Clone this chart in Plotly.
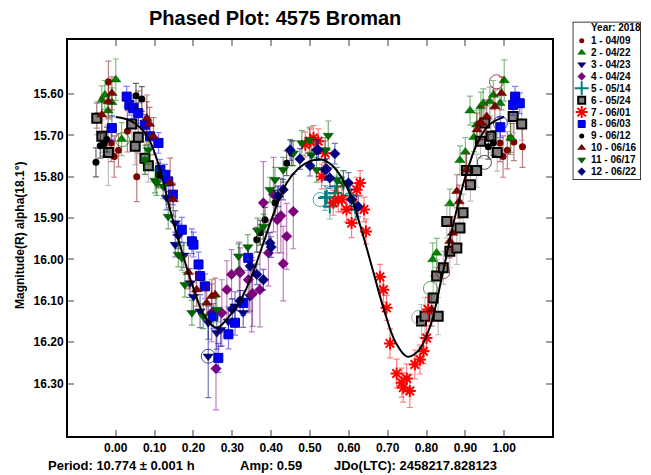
import plotly.graph_objects as go

FONT = "Liberation Sans, Arial, sans-serif"

# ---------------- data ----------------
session_labels = ["1 - 04/09", "2 - 04/22", "3 - 04/23", "4 - 04/24", "5 - 05/14", "6 - 05/24",
                  "7 - 06/01", "8 - 06/03", "9 - 06/12", "10 - 06/16", "11 - 06/17", "12 - 06/22"]
legend_title = "Year: 2018"
chart_title = "Phased Plot: 4575 Broman"
y_title = "Magnitude(R) alpha(18.1°)"
footer_period = "Period: 10.774 ± 0.001 h"
footer_amp = "Amp: 0.59"
footer_jd = "JDo(LTC): 2458217.828123"

x_tick_vals = [0.0, 0.1, 0.2, 0.3, 0.4, 0.5, 0.6, 0.7, 0.8, 0.9, 1.0]
y_tick_vals = [15.60, 15.70, 15.80, 15.90, 16.00, 16.10, 16.20, 16.30]

s1_phase = [-0.049, -0.019, -0.012, -0.004, 0.007, 0.030, 0.054, 0.058, 0.080, 0.989, 0.997, 1.008, 1.016, 1.025, 1.047]
s1_mag = [15.652, 15.570, 15.718, 15.751, 15.736, 15.690, 15.800, 15.642, 15.662, 15.718, 15.751, 15.736, 15.706, 15.716, 15.727]
s1_err = [0.030, 0.050, 0.045, 0.050, 0.040, 0.050, 0.060, 0.050, 0.060, 0.045, 0.050, 0.045, 0.040, 0.045, 0.050]

s2_phase = [-0.036, -0.028, -0.020, -0.010, 0.000, 0.015, 0.816, 0.826, 0.860, 0.886, 0.900, 0.912, 0.922, 0.929,
            0.940, 0.946, 0.963, 0.972, 0.989, 1.000, 1.017]
s2_mag = [15.615, 15.602, 15.640, 15.620, 15.565, 15.709, 16.000, 15.984, 15.865, 15.760, 15.740, 15.640, 15.704, 15.674,
          15.630, 15.622, 15.618, 15.602, 15.622, 15.567, 15.706]
s2_err = [0.035, 0.035, 0.035, 0.035, 0.050, 0.040, 0.040, 0.035, 0.035, 0.035, 0.035, 0.035, 0.035, 0.035,
          0.035, 0.035, 0.035, 0.035, 0.035, 0.050, 0.035]

s3_phase = [0.130, 0.153, 0.153, 0.161, 0.175, 0.191, 0.200, 0.217, 0.238, 0.238, 0.260, 0.270, 0.290, 0.307, 0.328, 0.345]
s3_mag = [15.850, 15.912, 15.964, 15.944, 15.990, 16.057, 16.090, 16.125, 16.153, 16.234, 16.177, 16.170, 16.150, 16.113, 16.129, 16.090]
s3_err = [0.030, 0.030, 0.030, 0.030, 0.030, 0.035, 0.035, 0.040, 0.040, 0.100, 0.040, 0.040, 0.035, 0.035, 0.035, 0.035]

s4_phase = [0.247, 0.258, 0.273, 0.286, 0.298, 0.318, 0.320, 0.341, 0.350, 0.352, 0.371, 0.380, 0.393, 0.406,
            0.416, 0.425, 0.431, 0.440, 0.457]
s4_mag = [16.129, 16.264, 16.129, 16.073, 16.036, 16.028, 16.032, 16.049, 16.085, 16.082, 16.073, 15.863, 15.984, 15.843,
          15.904, 15.894, 16.010, 15.944, 15.884]
s4_err = [0.070, 0.100, 0.080, 0.070, 0.060, 0.070, 0.060, 0.080, 0.090, 0.080, 0.090, 0.100, 0.080, 0.090,
          0.080, 0.090, 0.090, 0.080, 0.090]

s5_phase = [0.539, 0.543, 0.551, 0.564, 0.569, 0.586, 0.603, 0.616, 0.620]
s5_mag = [15.851, 15.849, 15.872, 15.839, 15.823, 15.815, 15.845, 15.872, 15.879]
s5_err = [0.030, 0.025, 0.030, 0.030, 0.025, 0.030, 0.030, 0.030, 0.035]

s6_phase = [-0.049, -0.036, -0.019, 0.041, 0.050, 0.058, 0.075, 0.084, 0.787, 0.796, 0.817, 0.826, 0.830, 0.843,
            0.852, 0.860, 0.878, 0.886, 0.894, 0.903, 0.913, 0.929, 0.939, 0.950, 0.966, 0.982, 1.023, 1.045]
s6_mag = [15.658, 15.702, 15.741, 15.672, 15.726, 15.704, 15.755, 15.773, 16.149, 16.137, 16.093, 16.040, 16.137, 16.020,
          15.908, 15.980, 15.972, 15.924, 15.887, 15.785, 15.819, 15.785, 15.714, 15.670, 15.702, 15.741, 15.654, 15.672]
s6_err = [0.040, 0.040, 0.080, 0.040, 0.045, 0.040, 0.040, 0.040, 0.040, 0.045, 0.040, 0.040, 0.045, 0.040,
          0.040, 0.040, 0.040, 0.040, 0.045, 0.040, 0.040, 0.040, 0.040, 0.040, 0.040, 0.045, 0.040, 0.040]

s7_phase = [0.488, 0.500, 0.509, 0.521, 0.530, 0.539, 0.560, 0.573, 0.582, 0.594, 0.607, 0.620, 0.629, 0.639, 0.644,
            0.680, 0.689, 0.697, 0.706, 0.723, 0.736, 0.740, 0.749, 0.757, 0.770, 0.783, 0.792, 0.800, 0.804]
s7_mag = [15.722, 15.714, 15.706, 15.714, 15.799, 15.743, 15.863, 15.855, 15.855, 15.879, 15.912, 15.831, 15.815, 15.879, 15.932,
          16.042, 16.073, 16.117, 16.203, 16.276, 16.298, 16.310, 16.288, 16.318, 16.254, 16.242, 16.222, 16.190, 16.121]
s7_err = [0.030, 0.030, 0.030, 0.030, 0.030, 0.030, 0.030, 0.030, 0.030, 0.030, 0.035, 0.030, 0.030, 0.030, 0.030,
          0.030, 0.030, 0.030, 0.035, 0.035, 0.035, 0.035, 0.035, 0.040, 0.035, 0.035, 0.030, 0.030, 0.030]

s8_phase = [-0.010, 0.028, 0.035, 0.045, 0.058, 0.075, 0.088, 0.110, 0.114, 0.127, 0.135, 0.147, 0.170, 0.196, 0.200,
            0.213, 0.217, 0.230, 0.251, 0.264, 0.290, 0.307, 0.328, 0.341, 0.990, 1.023, 1.028, 1.040]
s8_mag = [15.682, 15.606, 15.626, 15.634, 15.646, 15.674, 15.702, 15.718, 15.783, 15.795, 15.811, 15.843, 15.928, 15.956, 15.964,
          16.012, 16.040, 16.065, 16.137, 16.238, 16.181, 16.153, 16.105, 15.996, 15.680, 15.626, 15.606, 15.622]
s8_err = [0.030, 0.025, 0.025, 0.025, 0.025, 0.025, 0.025, 0.025, 0.025, 0.025, 0.025, 0.025, 0.030, 0.030, 0.030,
          0.030, 0.030, 0.030, 0.030, 0.035, 0.035, 0.030, 0.030, 0.030, 0.025, 0.025, 0.025, 0.025]

s9_phase = [-0.051, -0.040, -0.030, -0.023, 0.052, 0.067, 0.110, 0.363, 0.372, 0.384, 0.410, 0.440, 0.453, 0.959, 0.972]
s9_mag = [15.765, 15.725, 15.720, 15.710, 15.604, 15.612, 15.797, 15.952, 15.935, 15.904, 15.863, 15.767, 15.743, 15.727, 15.718]
s9_err = [0.035, 0.030, 0.030, 0.030, 0.030, 0.030, 0.030, 0.030, 0.030, 0.030, 0.030, 0.030, 0.030, 0.030, 0.030]

s10_phase = [-0.036, -0.019, -0.010, 0.080, 0.087, 0.097, 0.140, 0.148, 0.187, 0.208, 0.234, 0.247, 0.256,
             0.813, 0.860, 0.867, 0.878, 0.884, 0.903, 0.930, 0.937, 0.942, 0.955, 0.976, 0.993]
s10_mag = [15.650, 15.618, 15.598, 15.658, 15.672, 15.702, 15.815, 15.855, 16.031, 16.073, 16.105, 16.089, 16.085,
           16.121, 15.956, 15.936, 15.835, 15.860, 15.783, 15.686, 15.670, 15.670, 15.654, 15.630, 15.598]
s10_err = [0.040, 0.040, 0.040, 0.040, 0.040, 0.045, 0.060, 0.040, 0.040, 0.040, 0.040, 0.040, 0.040,
           0.040, 0.040, 0.040, 0.040, 0.040, 0.040, 0.040, 0.040, 0.040, 0.040, 0.040, 0.040]

s11_phase = [0.075, 0.084, 0.101, 0.105, 0.122, 0.135, 0.161, 0.170, 0.178, 0.196, 0.225, 0.260, 0.316, 0.340, 0.365,
             0.380, 0.397, 0.410, 0.431, 0.457, 0.479, 0.499, 0.504, 0.517, 0.539, 0.547, 0.569, 0.586]
s11_mag = [15.759, 15.735, 15.809, 15.815, 15.823, 15.896, 15.988, 15.996, 16.061, 16.129, 16.137, 16.121, 15.992, 15.970, 15.930,
           15.920, 15.831, 15.807, 15.783, 15.743, 15.718, 15.710, 15.747, 15.783, 15.735, 15.700, 15.807, 15.815]
s11_err = [0.035, 0.035, 0.030, 0.030, 0.030, 0.030, 0.030, 0.030, 0.030, 0.030, 0.030, 0.030, 0.030, 0.030, 0.030,
           0.030, 0.030, 0.030, 0.030, 0.030, 0.030, 0.030, 0.030, 0.030, 0.030, 0.035, 0.030, 0.030]

s12_phase = [0.300, 0.320, 0.346, 0.363, 0.380, 0.397, 0.400, 0.418, 0.431, 0.449, 0.474, 0.500, 0.517, 0.521,
             0.539, 0.543, 0.551, 0.564, 0.599, 0.607, 0.624]
s12_mag = [16.120, 16.100, 16.016, 16.036, 16.049, 15.960, 15.970, 15.847, 15.831, 15.735, 15.757, 15.773, 15.735, 15.735,
           15.783, 15.781, 15.803, 15.744, 15.815, 15.855, 15.872]
s12_err = [0.025, 0.025, 0.025, 0.025, 0.025, 0.025, 0.025, 0.025, 0.025, 0.025, 0.025, 0.025, 0.025, 0.025,
           0.025, 0.025, 0.025, 0.025, 0.025, 0.025, 0.025]

# excluded points drawn as rings (session index 1..12)
ring_phase = [0.980, 0.949, 0.526, 0.017, 0.810, 0.842, 0.990, 0.238, 0.780]
ring_mag = [15.570, 15.765, 15.855, 15.710, 16.070, 16.030, 15.670, 16.234, 16.140]
ring_session = [1, 9, 5, 2, 2, 1, 8, 3, 6]

# Fourier fit curve
fit_phase = [0.00, 0.04, 0.08, 0.11, 0.14, 0.17, 0.20, 0.23, 0.26, 0.29, 0.32, 0.35, 0.38, 0.41, 0.44, 0.47,
             0.50, 0.53, 0.56, 0.60, 0.63, 0.66, 0.69, 0.72, 0.75, 0.78, 0.81, 0.84, 0.87, 0.90, 0.93, 0.96, 1.00]
fit_mag = [15.655, 15.665, 15.700, 15.770, 15.880, 15.980, 16.070, 16.140, 16.165, 16.140, 16.100, 16.040, 15.960,
           15.880, 15.815, 15.780, 15.762, 15.758, 15.775, 15.835, 15.920, 16.020, 16.120, 16.200, 16.235, 16.220,
           16.160, 16.040, 15.910, 15.800, 15.720, 15.675, 15.655]

all_phase = [s1_phase, s2_phase, s3_phase, s4_phase, s5_phase, s6_phase, s7_phase, s8_phase, s9_phase, s10_phase, s11_phase, s12_phase]
all_mag = [s1_mag, s2_mag, s3_mag, s4_mag, s5_mag, s6_mag, s7_mag, s8_mag, s9_mag, s10_mag, s11_mag, s12_mag]
all_err = [s1_err, s2_err, s3_err, s4_err, s5_err, s6_err, s7_err, s8_err, s9_err, s10_err, s11_err, s12_err]

# ---------------- styles ----------------
styles = [
    dict(symbol="circle", color="#800000", size=7, lc="#800000", lw=0, ec="rgba(128,0,0,0.5)"),
    dict(symbol="triangle-up", color="#008000", size=9, lc="#006000", lw=0.5, ec="rgba(0,128,0,0.5)"),
    dict(symbol="triangle-down", color="#000080", size=9, lc="#000060", lw=0.5, ec="rgba(0,0,128,0.55)"),
    dict(symbol="diamond", color="#800080", size=8, lc="#600060", lw=0.5, ec="rgba(128,0,128,0.5)"),
    dict(symbol="cross-thin-open", color="#008080", size=10, lc="#008080", lw=2, ec="rgba(0,128,128,0.5)"),
    dict(symbol="square", color="#808080", size=9, lc="#000000", lw=2, ec="rgba(150,150,150,0.6)"),
    dict(symbol="asterisk-open", color="#FF0000", size=10, lc="#FF0000", lw=2, ec="rgba(255,0,0,0.5)"),
    dict(symbol="square", color="#0000FF", size=9, lc="#0000B0", lw=1, ec="rgba(0,0,255,0.5)"),
    dict(symbol="circle", color="#000000", size=7, lc="#000000", lw=0, ec="rgba(0,0,0,0.6)"),
    dict(symbol="triangle-up", color="#800000", size=9, lc="#600000", lw=0.5, ec="rgba(128,0,0,0.5)"),
    dict(symbol="triangle-down", color="#006800", size=9, lc="#004800", lw=0.5, ec="rgba(0,110,0,0.55)"),
    dict(symbol="diamond", color="#000080", size=8, lc="#000060", lw=0.5, ec="rgba(0,0,128,0.55)"),
]

W, H = 651, 475
ML, MR, MT, MB = 68, 10, 10, 39
PW = W - ML - MR
PH = H - MT - MB


def px_x(px):
    return (px - ML) / PW


def px_y(py):
    return (H - MB - py) / PH


fig = go.Figure()

for i in range(12):
    st = styles[i]
    fig.add_trace(go.Scatter(
        x=all_phase[i], y=all_mag[i], mode="markers",
        error_y=dict(type="data", array=all_err[i], visible=True, color=st["ec"], thickness=1.2, width=3),
        marker=dict(symbol=st["symbol"], color=st["color"], size=st["size"],
                    line=dict(color=st["lc"], width=st["lw"])),
        showlegend=False, xaxis="x", yaxis="y"))

fig.add_trace(go.Scatter(
    x=ring_phase, y=ring_mag, mode="markers",
    marker=dict(symbol="circle-open", size=14,
                color=[styles[s - 1]["color"] for s in ring_session],
                line=dict(width=1), opacity=0.7),
    showlegend=False, xaxis="x", yaxis="y"))

fig.add_trace(go.Scatter(
    x=fit_phase, y=fit_mag, mode="lines", line=dict(color="black", width=2, shape="spline"),
    showlegend=False, xaxis="x", yaxis="y"))

# ---------------- custom legend ----------------
LX0, LX1, LY0, LY1 = 572.7, 641.0, 21.7, 180.0
row0 = 19.0
row_step = 11.9
for i in range(12):
    st = styles[i]
    ms = st["size"] - 2 if st["symbol"] not in ("asterisk-open", "cross-thin-open") else st["size"]
    fig.add_trace(go.Scatter(
        x=[9.0], y=[row0 + row_step * i], mode="markers",
        marker=dict(symbol=st["symbol"], color=st["color"], size=ms,
                    line=dict(color=st["lc"], width=st["lw"])),
        showlegend=False, xaxis="x2", yaxis="y2", hoverinfo="skip"))
    fig.add_annotation(x=16.3, y=row0 + row_step * i, xref="x2", yref="y2", text=session_labels[i],
                       showarrow=False, xanchor="left", yanchor="middle",
                       font=dict(family=FONT, size=10, color="black", weight="bold"))
fig.add_annotation(x=16.3, y=5.5, xref="x2", yref="y2", text=legend_title, showarrow=False,
                   xanchor="left", yanchor="middle",
                   font=dict(family=FONT, size=10, color="black", weight="bold"))
fig.add_shape(type="rect", xref="x2", yref="y2", x0=0, x1=LX1 - LX0, y0=0, y1=LY1 - LY0,
              line=dict(color="black", width=1.5))

# ---------------- text ----------------
fig.add_annotation(x=px_x(275), y=px_y(18), xref="paper", yref="paper", text=chart_title,
                   showarrow=False, xanchor="center", yanchor="middle",
                   font=dict(family=FONT, size=20, color="black", weight="bold"))
fig.add_annotation(x=px_x(20), y=px_y(236), xref="paper", yref="paper", text=y_title, textangle=-90,
                   showarrow=False, xanchor="center", yanchor="middle",
                   font=dict(family=FONT, size=12, color="black", weight="bold"))
for txt, px in [(footer_period, 46), (footer_amp, 238), (footer_jd, 332)]:
    fig.add_annotation(x=px_x(px), y=px_y(465), xref="paper", yref="paper", text=txt,
                       showarrow=False, xanchor="left", yanchor="middle",
                       font=dict(family=FONT, size=13, color="black", weight="bold"))

axis_common = dict(showline=True, linecolor="black", linewidth=2, mirror="allticks",
                   ticks="inside", ticklen=6, tickwidth=2, tickcolor="#a0a0a0",
                   showgrid=False, zeroline=False,
                   tickfont=dict(family=FONT, size=12, color="black", weight="bold"))

fig.update_layout(
    width=W, height=H,
    margin=dict(l=ML, r=MR, t=MT, b=MB, pad=0),
    paper_bgcolor="white", plot_bgcolor="white",
    font=dict(family=FONT, color="black"),
    showlegend=False,
    hovermode=False,
    xaxis=dict(domain=[0, px_x(552)], range=[-0.123, 1.123], tickvals=x_tick_vals,
               tickformat=".2f", anchor="y", **axis_common),
    yaxis=dict(domain=[0, px_y(40)], range=[16.427, 15.469], tickvals=y_tick_vals,
               tickformat=".2f", anchor="x", **axis_common),
    xaxis2=dict(domain=[px_x(LX0), px_x(LX1)], range=[0, LX1 - LX0], visible=False, anchor="y2"),
    yaxis2=dict(domain=[px_y(LY1), px_y(LY0)], range=[LY1 - LY0, 0], visible=False, anchor="x2"),
)

fig.write_html("out.html", config={"displayModeBar": False},
               post_script="document.body.style.margin='0';document.body.style.overflow='hidden';")
